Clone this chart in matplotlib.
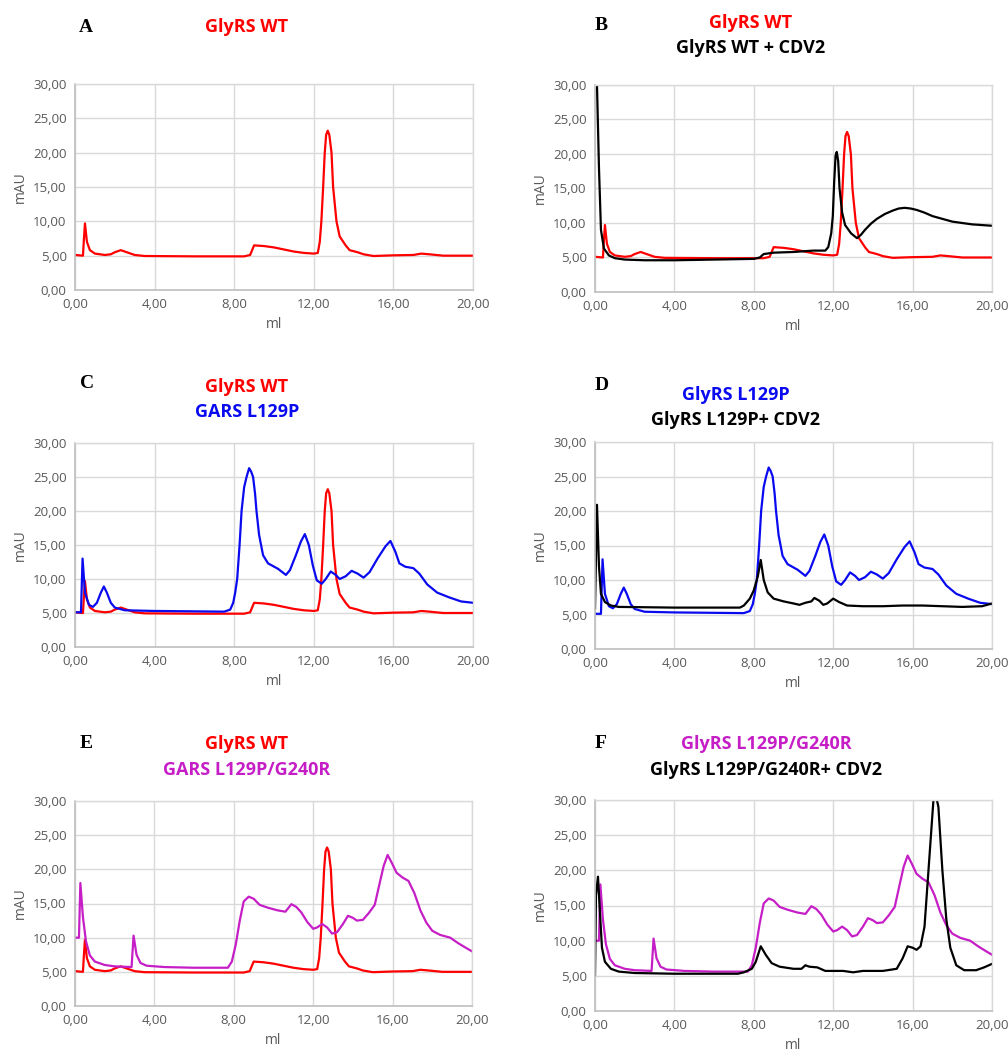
import matplotlib
matplotlib.use("Agg")
import matplotlib.pyplot as plt
from matplotlib.ticker import FuncFormatter

# Elution profiles (ml, mAU)
wt_x = [0, 0.4, 0.45, 0.5, 0.6, 0.75, 1.0, 1.5, 1.8, 2.0, 2.3, 2.6, 3.0, 3.5, 6.0, 8.5, 8.8, 9.0,
        9.5, 10.0, 11.0, 11.5, 12.0, 12.2, 12.3, 12.38, 12.47, 12.55, 12.62, 12.7, 12.78, 12.89,
        12.97, 13.14, 13.3, 13.6, 13.8, 14.2, 14.5, 15.0, 16.0, 17.0, 17.4, 17.8, 18.5, 20.0]
wt_y = [5.1, 5.0, 7.5, 9.7, 7.0, 5.8, 5.3, 5.1, 5.2, 5.5, 5.8, 5.5, 5.1, 4.95, 4.9, 4.9, 5.1, 6.5,
        6.4, 6.2, 5.6, 5.4, 5.3, 5.4, 7.0, 10.0, 15.0, 20.0, 22.6, 23.2, 22.6, 20.0,
        15.0, 10.0, 7.8, 6.5, 5.8, 5.5, 5.2, 4.95, 5.05, 5.1, 5.3, 5.2, 5.0, 5.0]

wt_cdv2_x = [0, 0.1, 0.2, 0.3, 0.45, 0.7, 1.0, 1.5, 2.5, 4.0, 8.0, 8.3, 8.5, 9.0, 10.0, 11.0,
             11.6, 11.75, 11.9, 11.98, 12.05, 12.12, 12.18, 12.25, 12.32, 12.45, 12.6, 12.9,
             13.2, 13.4, 13.6, 13.9, 14.2, 14.6, 15.0, 15.3, 15.6, 15.9, 16.2, 16.6, 17.0,
             17.5, 18.0, 18.5, 19.0, 19.5, 20.0]
wt_cdv2_y = [31, 30, 18, 9, 6.3, 5.3, 4.9, 4.7, 4.6, 4.6, 4.8, 5.0, 5.5, 5.7, 5.8, 6.0,
             6.0, 6.5, 8.5, 11.0, 16.0, 19.8, 20.3, 19.0, 15.0, 11.5, 9.7, 8.5,
             7.8, 8.3, 9.0, 9.9, 10.6, 11.3, 11.8, 12.1, 12.2, 12.1, 11.9, 11.5, 11.0,
             10.6, 10.2, 10.0, 9.8, 9.7, 9.6]

l129p_x = [0, 0.3, 0.38, 0.5, 0.7, 0.9, 1.1, 1.3, 1.45, 1.6, 1.8, 2.0, 2.5, 4.0, 7.5, 7.8, 7.95,
           8.05, 8.15, 8.27, 8.37, 8.5, 8.62, 8.75, 8.85, 8.95, 9.05, 9.12, 9.25, 9.45, 9.7,
           10.2, 10.6, 10.8, 11.1, 11.35, 11.55, 11.75, 11.95, 12.15, 12.4, 12.6, 12.85, 13.1,
           13.3, 13.6, 13.9, 14.2, 14.5, 14.8, 15.2, 15.6, 15.85, 16.1, 16.3, 16.6, 17.0,
           17.3, 17.7, 18.2, 18.8, 19.4, 20.0]
l129p_y = [5.1, 5.1, 13.0, 8.0, 6.2, 5.9, 6.5, 8.0, 8.9, 8.0, 6.5, 5.8, 5.4, 5.3, 5.2, 5.5, 6.5,
           8.0, 10.0, 15.0, 20.0, 23.5, 25.0, 26.3, 25.8, 25.0, 22.5, 20.0, 16.5, 13.5, 12.3,
           11.5, 10.6, 11.3, 13.5, 15.5, 16.6, 15.0, 12.0, 9.8, 9.3, 10.0, 11.1, 10.6,
           10.0, 10.4, 11.2, 10.8, 10.2, 11.0, 13.0, 14.8, 15.6, 14.0, 12.3, 11.8, 11.6,
           10.8, 9.2, 8.0, 7.3, 6.7, 6.5]

l129p_cdv2_x = [0, 0.1, 0.2, 0.3, 0.5, 0.8, 1.2, 4.0, 7.3, 7.5, 7.8, 8.0, 8.2, 8.35, 8.5, 8.7,
                9.0, 9.5, 10.0, 10.3, 10.6, 10.9, 11.05, 11.3, 11.5, 11.7, 12.0, 12.3, 12.7,
                13.5, 14.5, 15.5, 16.5, 17.5, 18.5, 19.5, 20.0]
l129p_cdv2_y = [5.9, 20.9, 12.0, 8.0, 6.8, 6.3, 6.1, 6.0, 6.0, 6.3, 7.3, 8.5, 10.5, 12.9, 10.0, 8.2,
                7.3, 6.9, 6.6, 6.4, 6.7, 6.9, 7.4, 7.0, 6.4, 6.6, 7.3, 6.8, 6.3,
                6.2, 6.2, 6.3, 6.3, 6.2, 6.1, 6.2, 6.6]

dm_x = [0, 0.2, 0.27, 0.4, 0.55, 0.75, 1.0, 1.5, 2.0, 2.85, 2.95, 3.1, 3.3, 3.6, 4.5, 6.0, 7.7,
        7.9, 8.1, 8.3, 8.5, 8.75, 9.0, 9.3, 9.7, 10.2, 10.6, 10.9, 11.15, 11.4, 11.7, 12.0, 12.2,
        12.45, 12.7, 12.95, 13.2, 13.5, 13.75, 14.0, 14.2, 14.5, 14.8, 15.1, 15.35, 15.55,
        15.75, 15.95, 16.2, 16.5, 16.8, 17.1, 17.4, 17.7, 18.0, 18.4, 18.9, 19.3, 19.7, 20.0]
dm_y = [10.0, 10.0, 18.0, 13.0, 9.5, 7.4, 6.5, 6.0, 5.8, 5.7, 10.3, 7.5, 6.3, 5.9, 5.7, 5.6, 5.6,
        6.5, 9.0, 12.5, 15.3, 16.0, 15.7, 14.8, 14.4, 14.0, 13.8, 14.9, 14.5, 13.7, 12.3, 11.3, 11.5,
        12.0, 11.5, 10.6, 10.8, 12.0, 13.2, 12.9, 12.5, 12.6, 13.6, 14.8, 18.0, 20.5,
        22.1, 21.0, 19.5, 18.8, 18.3, 16.5, 14.0, 12.2, 11.0, 10.4, 10.0, 9.2, 8.5, 8.0]

dm_cdv2_x = [0, 0.05, 0.15, 0.25, 0.35, 0.5, 0.8, 1.2, 2.0, 4.0, 7.2, 7.5, 7.9, 8.1, 8.35, 8.6,
             8.9, 9.3, 10.0, 10.4, 10.6, 10.8, 11.2, 11.6, 12.5, 13.0, 13.5, 14.5, 15.2, 15.5,
             15.75, 16.0, 16.2, 16.4, 16.6, 16.8, 16.9, 17.05, 17.15, 17.3, 17.5, 17.7, 17.9,
             18.2, 18.6, 19.2, 19.6, 20.0]
dm_cdv2_y = [5.1, 16.5, 19.1, 14.0, 9.0, 7.0, 6.0, 5.6, 5.4, 5.3, 5.3, 5.5, 6.0, 7.0, 9.2, 8.0,
             6.8, 6.3, 6.0, 6.0, 6.5, 6.3, 6.2, 5.7, 5.7, 5.5, 5.7, 5.7, 6.0, 7.5,
             9.2, 9.0, 8.7, 9.2, 12.0, 20.0, 24.0, 30.0, 31.0, 29.0, 20.0, 13.0, 9.0,
             6.5, 5.8, 5.8, 6.2, 6.7]

RED = "#FF0000"
BLUE = "#0A0AF0"
MAGENTA = "#C61EC6"
BLACK = "#000000"

W, H = 1008, 1057
fig = plt.figure(figsize=(W / 100, H / 100), dpi=100)
fig.patch.set_facecolor("white")


def rect(l, t, r, b):
    return [l / W, 1 - b / H, (r - l) / W, (b - t) / H]


def comma_fmt(v, pos):
    return f"{v:.2f}".replace(".", ",")


def setup_axes(ax):
    ax.set_xlim(0, 20)
    ax.set_ylim(0, 30)
    ax.set_xticks(range(0, 21, 4))
    ax.set_yticks(range(0, 31, 5))
    ax.xaxis.set_major_formatter(FuncFormatter(comma_fmt))
    ax.yaxis.set_major_formatter(FuncFormatter(comma_fmt))
    ax.grid(True, color="#D9D9D9", linewidth=1.0)
    ax.set_axisbelow(True)
    for s in ["top", "right"]:
        ax.spines[s].set_color("#D9D9D9")
        ax.spines[s].set_linewidth(1.0)
    for s in ["left", "bottom"]:
        ax.spines[s].set_color("#BFBFBF")
        ax.spines[s].set_linewidth(1.2)
    ax.tick_params(length=0, labelsize=9.5, labelcolor="#595959", pad=6)
    for lab in ax.get_xticklabels() + ax.get_yticklabels():
        lab.set_fontfamily("Open Sans")
    ax.set_xlabel("ml", fontsize=10, color="#595959", family="Open Sans", labelpad=4)
    ax.set_ylabel("mAU", fontsize=10, color="#595959", family="Open Sans", labelpad=4)


panels = [
    # letter, axes box (px), letter pos, title lines [(text, color, x, y)], series
    ("A", (75, 84, 473, 290), (86, 27),
     [("GlyRS WT", RED, 247, 27)],
     [(wt_x, wt_y, RED)]),
    ("B", (595, 85, 992, 292), (601, 25),
     [("GlyRS WT", RED, 751, 23), ("GlyRS WT + CDV2", BLACK, 751, 48)],
     [(wt_x, wt_y, RED), (wt_cdv2_x, wt_cdv2_y, BLACK)]),
    ("C", (75, 443, 473, 647), (87, 384),
     [("GlyRS WT", RED, 247, 387), ("GARS L129P", BLUE, 247, 412)],
     [(wt_x, wt_y, RED), (l129p_x, l129p_y, BLUE)]),
    ("D", (595, 442, 992, 649), (602, 385),
     [("GlyRS L129P", BLUE, 736, 395), ("GlyRS L129P+ CDV2", BLACK, 736, 420)],
     [(l129p_x, l129p_y, BLUE), (l129p_cdv2_x, l129p_cdv2_y, BLACK)]),
    ("E", (75, 801, 472, 1006), (86, 744),
     [("GlyRS WT", RED, 247, 744), ("GARS L129P/G240R", MAGENTA, 247, 770)],
     [(wt_x, wt_y, RED), (dm_x, dm_y, MAGENTA)]),
    ("F", (595, 800, 992, 1011), (601, 744),
     [("GlyRS L129P/G240R", MAGENTA, 766, 744), ("GlyRS L129P/G240R+ CDV2", BLACK, 766, 770)],
     [(dm_x, dm_y, MAGENTA), (dm_cdv2_x, dm_cdv2_y, BLACK)]),
]

for letter, box, lpos, titles, series in panels:
    ax = fig.add_axes(rect(*box))
    setup_axes(ax)
    for xs, ys, c in series:
        ax.plot(xs, ys, color=c, linewidth=1.6, solid_joinstyle="round")
    fig.text(lpos[0] / W, 1 - lpos[1] / H, letter, fontsize=14, fontweight="bold",
             family="Liberation Serif", ha="center", va="center")
    for txt, c, tx, ty in titles:
        fig.text(tx / W, 1 - ty / H, txt, fontsize=13, fontweight="bold", color=c,
                 family="Open Sans", ha="center", va="center")

fig.savefig("out.png", dpi=100)
